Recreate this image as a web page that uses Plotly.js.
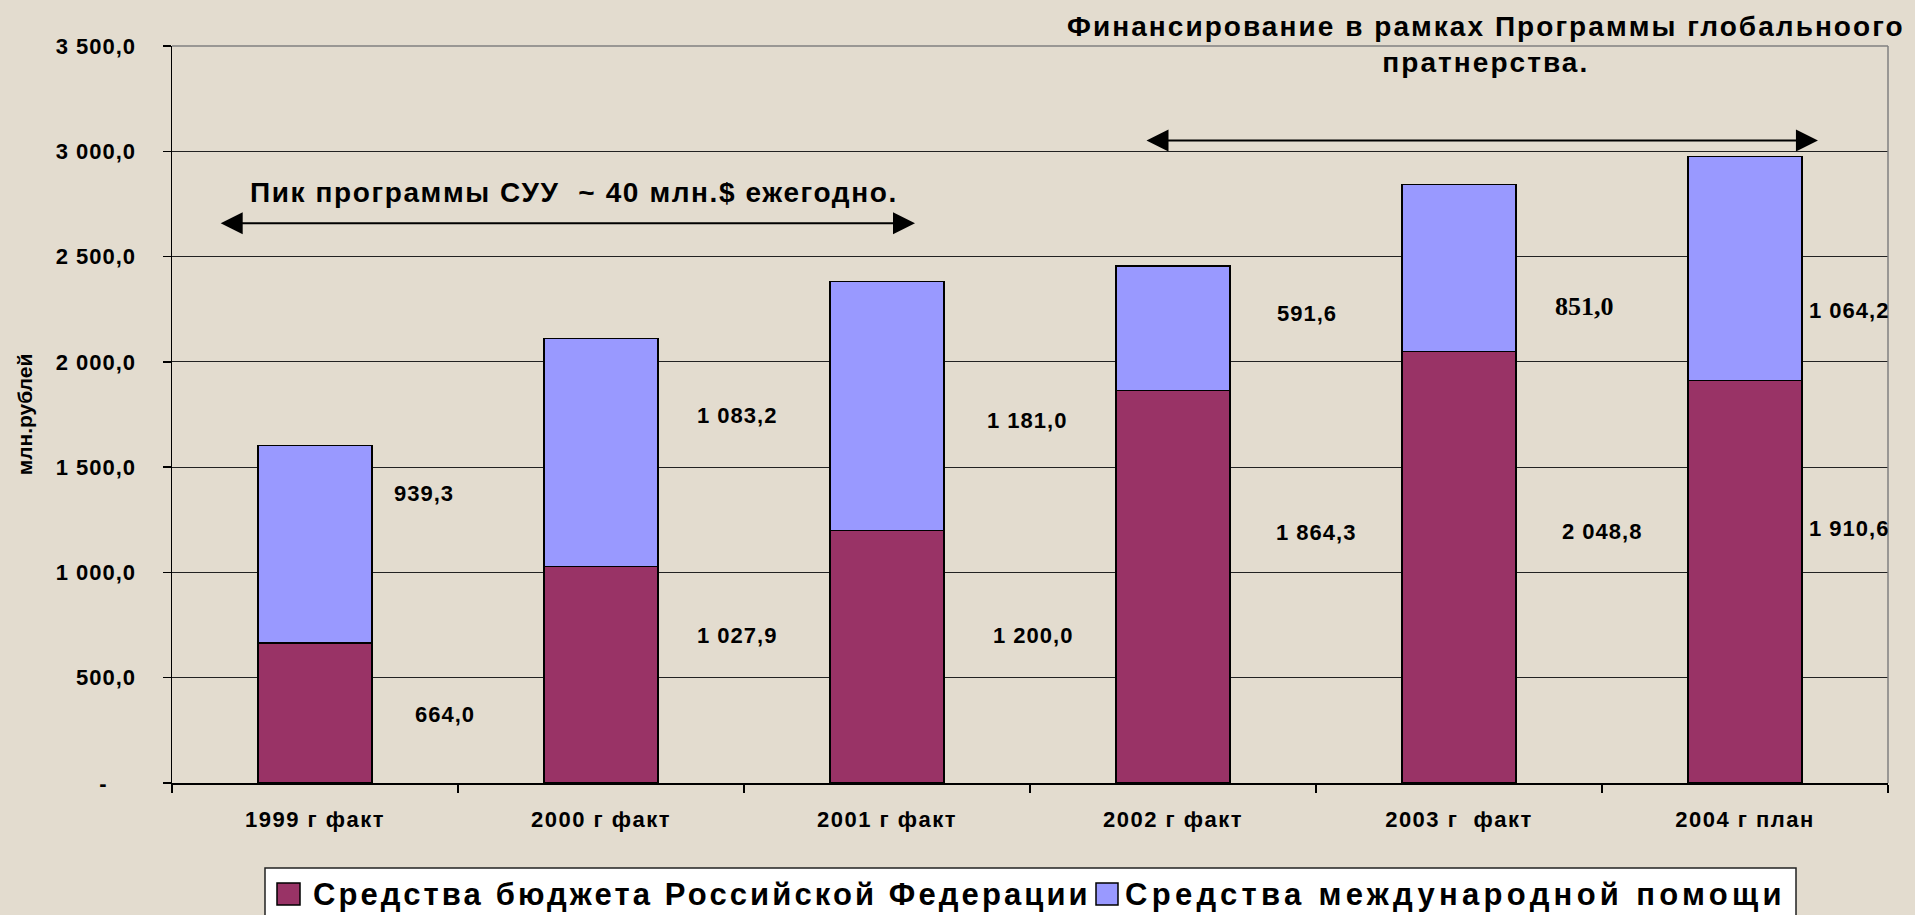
<!DOCTYPE html>
<html><head><meta charset="utf-8">
<script src="https://cdn.plot.ly/plotly-3.0.1.min.js"></script>
<style>
html,body{margin:0;padding:0;background:#e3dccf;}
#chart{width:1915px;height:915px;}
.xtick text{letter-spacing:1.5px;}
.ytick text{letter-spacing:1px;}
</style></head><body><div id="chart"></div>
<script>
// ---- data ----
const categories = ['1999 г факт','2000 г факт','2001 г факт','2002 г факт','2003 г\u00a0 факт','2004 г план'];
const budgetValues = [664.0, 1027.9, 1200.0, 1864.3, 2048.8, 1910.6];
const aidValues = [939.3, 1083.2, 1181.0, 591.6, 793.0, 1064.2];
const budgetLabels = ['664,0','1 027,9','1 200,0','1 864,3','2 048,8','1 910,6'];
const aidLabels = ['939,3','1 083,2','1 181,0','591,6','851,0','1 064,2'];
const seriesNames = ['Средства бюджета Российской Федерации','Средства международной помощи'];
const yTickVals = [0, 500, 1000, 1500, 2000, 2500, 3000, 3500];
const yTickText = ['-\u00a0\u00a0\u00a0\u00a0','500,0','1 000,0','1 500,0','2 000,0','2 500,0','3 000,0','3 500,0'];
const yAxisTitle = 'млн.рублей';
const noteLeft = 'Пик программы СУУ \u00a0~ 40 млн.$ ежегодно.';
const noteRight = 'Финансирование в рамках Программы глобальноого<br>пратнерства.';

// ---- label placement (category offset, axis value) ----
const budgetLabelDx = [0.455, 0.474, 0.51, 0.50, 0.50, 0.365];
const budgetLabelY = [325, 702, 702, 1189, 1195, 1210];
const aidLabelDx = [0.38, 0.474, 0.49, 0.47, 0.44, 0.365];
const aidLabelY = [1374, 1745, 1722, 2232, 2264, 2245];

// ---- styles ----
const colBudget = '#993366', colAid = '#9999ff';
const FONT = 'Liberation Sans, Arial, sans-serif';
const M = {l:172, r:27, t:46, b:132};
const W = 1915, H = 915;
const PW = W - M.l - M.r, PH = H - M.t - M.b;
const px = x => (x - M.l) / PW;           // pixel -> paper x
const py = y => (H - M.b - y) / PH;        // pixel -> paper y
const sp = (t, s) => '<span style="letter-spacing:' + s + 'px">' + t + '</span>';

const traces = [
  {type:'bar', name:seriesNames[0], x:categories, y:budgetValues,
   marker:{color:colBudget, line:{color:'#000', width:1.5}}, hoverinfo:'skip'},
  {type:'bar', name:seriesNames[1], x:categories, y:aidValues,
   marker:{color:colAid, line:{color:'#000', width:1.5}}, hoverinfo:'skip'}
];

const annotations = [];
categories.forEach((c, i) => {
  annotations.push({x:i + budgetLabelDx[i], y:budgetLabelY[i], xref:'x', yref:'y', showarrow:false,
    xanchor:'center', yanchor:'middle',
    text:sp(budgetLabels[i],1), font:{family:FONT, size:22, weight:'bold', color:'#000'}});
  const serif = aidLabels[i] === '851,0';
  annotations.push({x:i + aidLabelDx[i], y:aidLabelY[i], xref:'x', yref:'y', showarrow:false,
    xanchor:'center', yanchor:'middle',
    text: serif ? aidLabels[i] : sp(aidLabels[i],1),
    font:{family: serif ? 'Liberation Serif, Times New Roman, serif' : FONT, size: serif ? 26 : 22, weight:'bold', color:'#000'}});
});

// notes
annotations.push({x:px(574), y:py(192), xref:'paper', yref:'paper', xanchor:'center', yanchor:'middle', showarrow:false,
  text:sp(noteLeft,1.6), font:{family:FONT, size:28, weight:'bold', color:'#000'}});
annotations.push({x:px(1486), y:py(45), xref:'paper', yref:'paper', xanchor:'center', yanchor:'middle', showarrow:false, align:'center',
  text:sp(noteRight,2.05), font:{family:FONT, size:28, weight:'bold', color:'#000'}});

// double arrows
function dblArrow(x0, x1, y) {
  return {x:x1, y:y, ax:x0, ay:y, xref:'x', yref:'y', axref:'x', ayref:'y', text:'',
    showarrow:true, arrowside:'end+start', arrowhead:2, startarrowhead:2,
    arrowsize:2.2, startarrowsize:2.2, arrowwidth:2, arrowcolor:'#000', standoff:0, startstandoff:0};
}
annotations.push(dblArrow(-0.335, 2.098, 2658));
annotations.push(dblArrow(2.902, 5.255, 3051));

// custom legend
annotations.push({x:px(311), y:py(894), xref:'paper', yref:'paper', xanchor:'left', yanchor:'middle', showarrow:false,
  text:sp(seriesNames[0],3.1), font:{family:FONT, size:31, weight:'bold', color:'#000'}});
annotations.push({x:px(1123), y:py(894), xref:'paper', yref:'paper', xanchor:'left', yanchor:'middle', showarrow:false,
  text:sp(seriesNames[1],4.3), font:{family:FONT, size:31, weight:'bold', color:'#000'}});

const shapes = [
  {type:'line', xref:'paper', yref:'paper', x0:0, x1:1, y0:1, y1:1, line:{color:'#808080', width:1.5}, layer:'above'},
  {type:'line', xref:'paper', yref:'paper', x0:1, x1:1, y0:0, y1:1, line:{color:'#808080', width:1.5}, layer:'above'},
  {type:'rect', xref:'paper', yref:'paper', x0:px(265), x1:px(1796), y0:py(868), y1:py(940),
   fillcolor:'#ffffff', line:{color:'#222', width:1.5}, layer:'above'},
  {type:'rect', xref:'paper', yref:'paper', x0:px(277), x1:px(300), y0:py(883), y1:py(905),
   fillcolor:colBudget, line:{color:'#000', width:1.5}, layer:'above'},
  {type:'rect', xref:'paper', yref:'paper', x0:px(1096), x1:px(1118), y0:py(883), y1:py(905),
   fillcolor:colAid, line:{color:'#000', width:1.5}, layer:'above'}
];

const layout = {
  width:W, height:H, margin:M,
  paper_bgcolor:'#e3dccf', plot_bgcolor:'rgba(0,0,0,0)',
  barmode:'stack', bargap:0.6, showlegend:false,
  font:{family:FONT, color:'#000'},
  xaxis:{type:'category', range:[-0.5,5.5], showgrid:false, showline:true, linecolor:'#000', linewidth:1.5,
    ticks:'outside', tickson:'boundaries', ticklen:8, tickcolor:'#000', tickwidth:1.5,
    tickfont:{family:FONT, size:22, weight:'bold', color:'#000'}, ticklabelstandoff:16},
  yaxis:{range:[0,3500], tickvals:yTickVals, ticktext:yTickText, showgrid:true, gridcolor:'#222', gridwidth:1,
    showline:true, linecolor:'#000', linewidth:1.5, zeroline:false,
    ticks:'outside', ticklen:8, tickcolor:'#000', tickwidth:1.5, ticklabelstandoff:22,
    tickfont:{family:FONT, size:22, weight:'bold', color:'#000'},
    title:{text:yAxisTitle, font:{family:FONT, size:21, weight:'bold', color:'#000'}, standoff:17}},
  annotations:annotations, shapes:shapes
};

Plotly.newPlot('chart', traces, layout, {staticPlot:true});
</script></body></html>
